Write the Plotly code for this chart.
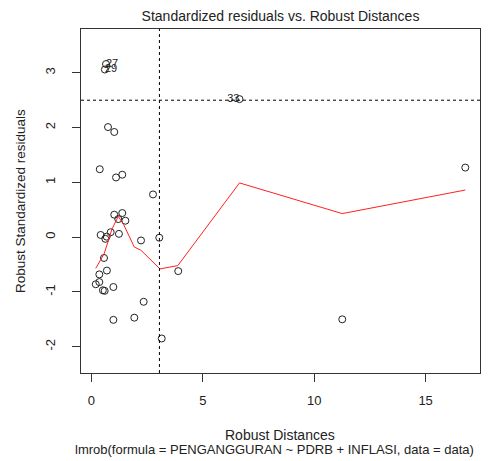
import plotly.graph_objects as go

# Data
robust_distance = [0.66, 0.61, 6.65, 0.75, 1.03, 0.38, 1.11, 1.39, 16.78, 2.77,
                   1.03, 1.39, 1.21, 1.53, 0.42, 0.87, 0.69, 0.63, 1.24, 2.23,
                   3.05, 0.57, 0.70, 0.36, 0.36, 0.20, 0.52, 0.60, 0.99, 3.90,
                   2.35, 0.99, 1.93, 3.16, 11.26]
std_residual = [3.16, 3.06, 2.52, 2.01, 1.92, 1.24, 1.09, 1.14, 1.27, 0.78,
                0.41, 0.44, 0.33, 0.30, 0.04, 0.09, 0.01, -0.03, 0.06, -0.06,
                -0.01, -0.38, -0.61, -0.68, -0.82, -0.86, -0.97, -0.98, -0.91, -0.62,
                -1.18, -1.51, -1.47, -1.85, -1.50]

label_names = ["27", "29", "33"]
label_x = [0.66, 0.61, 6.65]
label_y = [3.16, 3.06, 2.52]
label_pos = ["middle right", "middle right", "middle left"]

smooth_x = [0.20, 0.58, 0.92, 1.21, 1.45, 1.93, 2.23, 3.08, 3.88, 6.65, 11.26, 16.78]
smooth_y = [-0.57, -0.30, 0.14, 0.38, 0.23, -0.18, -0.24, -0.58, -0.52, 0.99, 0.43, 0.86]

resid_cutoff = 2.5
dist_cutoff = 3.057

x_ticks = [0, 5, 10, 15]
y_ticks = [-2, -1, 0, 1, 2, 3]
x_range = [-0.462, 17.44]
y_range = [-2.48, 3.80]

FONT = "Liberation Sans, Arial, sans-serif"
TXT = "#222222"

fig = go.Figure()

fig.add_trace(go.Scatter(
    x=robust_distance, y=std_residual, mode="markers",
    marker=dict(symbol="circle-open", size=7, color=TXT, line=dict(width=1, color=TXT)),
    showlegend=False, hoverinfo="x+y"))

fig.add_trace(go.Scatter(
    x=smooth_x, y=smooth_y, mode="lines",
    line=dict(color="#ff2020", width=1),
    showlegend=False, hoverinfo="skip"))

fig.add_trace(go.Scatter(
    x=label_x, y=label_y, mode="text", text=label_names,
    textposition=label_pos,
    textfont=dict(family=FONT, size=11, color=TXT),
    showlegend=False, hoverinfo="skip"))

fig.add_hline(y=resid_cutoff, line=dict(color="black", width=1, dash="dot"))
fig.add_vline(x=dist_cutoff, line=dict(color="black", width=1, dash="dot"))

fig.update_layout(
    width=501, height=461,
    margin=dict(l=81, r=21, t=29, b=88),
    paper_bgcolor="white", plot_bgcolor="white",
    font=dict(family=FONT, size=13, color=TXT),
    title=dict(text="Standardized residuals vs. Robust Distances",
               x=280.5 / 501, xanchor="center", y=1 - 16 / 461, yanchor="middle",
               font=dict(family=FONT, size=14, color=TXT)),
    xaxis=dict(range=x_range, tickvals=x_ticks, ticktext=[str(v) for v in x_ticks],
               ticks="outside", ticklen=8, tickcolor="#333333", tickwidth=1,
               showgrid=False, zeroline=False, showline=True, linecolor="#333333",
               linewidth=1, mirror=True, ticklabelstandoff=7,
               tickfont=dict(family=FONT, size=13, color=TXT)),
    yaxis=dict(range=y_range, tickvals=y_ticks, ticktext=[str(v) for v in y_ticks],
               ticks="outside", ticklen=8, tickcolor="#333333", tickwidth=1,
               showgrid=False, zeroline=False, showline=True, linecolor="#333333",
               linewidth=1, mirror=True, tickangle=-90, ticklabelstandoff=12,
               tickfont=dict(family=FONT, size=13, color=TXT)),
    annotations=[
        dict(text="Robust Distances", xref="paper", yref="paper",
             x=(280 - 81) / 399, y=-(435 - 373) / 344, xanchor="center", yanchor="middle",
             showarrow=False, font=dict(family=FONT, size=14, color=TXT)),
        dict(text="lmrob(formula = PENGANGGURAN ~ PDRB + INFLASI, data = data)",
             xref="paper", yref="paper",
             x=(274 - 81) / 399, y=-(449 - 373) / 344, xanchor="center", yanchor="middle",
             showarrow=False, font=dict(family=FONT, size=13, color=TXT)),
        dict(text="Robust Standardized residuals", xref="paper", yref="paper",
             x=-(81 - 20) / 399, y=0.5, xanchor="center", yanchor="middle", textangle=-90,
             showarrow=False, font=dict(family=FONT, size=13.5, color=TXT)),
    ],
)

fig.write_html("out.html")
